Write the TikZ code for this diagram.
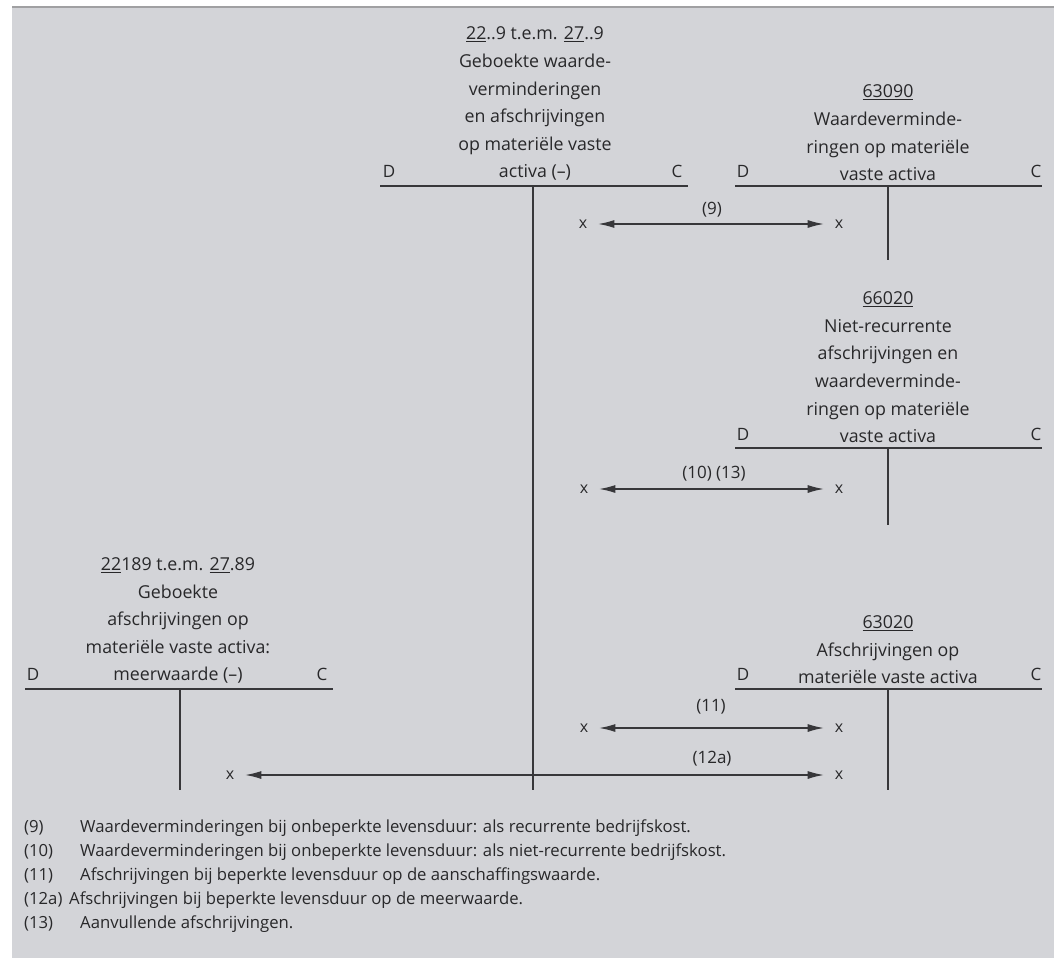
\documentclass[tikz,border=0pt]{standalone}
\usepackage{fontspec}
\setmainfont{Open Sans}
\usetikzlibrary{arrows.meta}
\definecolor{bgc}{RGB}{211,212,216}
\definecolor{topc}{RGB}{160,160,162}
\definecolor{linec}{RGB}{55,55,58}
\definecolor{txtc}{RGB}{40,40,42}
\tikzset{
  tline/.style={draw=linec, line width=1.1pt},
  lbl/.style={font=\fontsize{17}{28}\selectfont, text=txtc, inner sep=0pt},
  ttl/.style={font=\fontsize{17.8}{27.6}\selectfont, text=txtc, inner sep=0pt, align=center, anchor=south},
  xl/.style={font=\fontsize{16}{18}\selectfont, text=txtc, inner ysep=0pt, inner xsep=11pt},
  arr/.style={draw=linec, line width=1.1pt, {Latex[length=16pt,width=8pt]}-{Latex[length=16pt,width=8pt]}},
  leg/.style={font=\fontsize{16.7}{24}\selectfont, text=txtc, inner sep=0pt, anchor=base west},
}
\begin{document}
\begin{tikzpicture}[x=1pt,y=-1pt]
\useasboundingbox (0,0) rectangle (1061,958);
\fill[white] (0,0) rectangle (1061,958);
\fill[bgc] (12,7) rectangle (1054,958);
\draw[topc, line width=1.5pt] (12,7) -- (1054,7);

% T-account 1: 22..9 t.e.m. 27..9
\node[ttl] (t1) at (535,181) {\underline{22}..9 t.e.m. \underline{27}..9\\Geboekte waarde-\\verminderingen\\en afschrijvingen\\op materiële vaste\\activa (–)};
\coordinate (t1l) at (380,186); \coordinate (t1r) at (688,186);
\coordinate (t1t) at (533,186); \coordinate (t1b) at (533,790);
\draw[tline] (t1l) -- (t1r); \draw[tline] (t1t) -- (t1b);
\node[lbl] (d1) at (389,171) {D}; \node[lbl] (c1) at (677,171) {C};

% T-account 2: 63090
\node[ttl] (t2) at (888,181) {\underline{63090}\\Waardeverminde-\\ringen op materiële\\vaste activa};
\coordinate (t2l) at (735,186); \coordinate (t2r) at (1042,186);
\coordinate (t2t) at (888,186); \coordinate (t2b) at (888,260);
\draw[tline] (t2l) -- (t2r); \draw[tline] (t2t) -- (t2b);
\node[lbl] (d2) at (743,171) {D}; \node[lbl] (c2) at (1036,171) {C};

% arrow (9)
\node[xl] (x9l) at (583,224) {x}; \node[xl] (x9r) at (839,224) {x};
\draw[arr] (x9l) -- (x9r);
\node[lbl] (l9) at (712,210) {(9)};

% T-account 3: 66020
\node[ttl] (t3) at (888,443) {\underline{66020}\\Niet-recurrente\\afschrijvingen en\\waardeverminde-\\ringen op materiële\\vaste activa};
\coordinate (t3l) at (735,448); \coordinate (t3r) at (1042,448);
\coordinate (t3t) at (888,448); \coordinate (t3b) at (888,525);
\draw[tline] (t3l) -- (t3r); \draw[tline] (t3t) -- (t3b);
\node[lbl] (d3) at (743,434) {D}; \node[lbl] (c3) at (1036,434) {C};

% arrow (10) (13)
\node[xl] (x10l) at (584,489) {x}; \node[xl] (x10r) at (839,489) {x};
\draw[arr] (x10l) -- (x10r);
\node[lbl] (l10) at (714,474) {(10) (13)};

% T-account 4: 22189 t.e.m. 27.89
\node[ttl] (t4) at (178,684) {\underline{22}189 t.e.m. \underline{27}.89\\Geboekte\\afschrijvingen op\\materiële vaste activa:\\meerwaarde (–)};
\coordinate (t4l) at (25,689); \coordinate (t4r) at (333,689);
\coordinate (t4t) at (180,689); \coordinate (t4b) at (180,790);
\draw[tline] (t4l) -- (t4r); \draw[tline] (t4t) -- (t4b);
\node[lbl] (d4) at (33,674) {D}; \node[lbl] (c4) at (322,674) {C};

% T-account 5: 63020
\node[ttl] (t5) at (888,684) {\underline{63020}\\Afschrijvingen op\\materiële vaste activa};
\coordinate (t5l) at (735,689); \coordinate (t5r) at (1042,689);
\coordinate (t5t) at (888,689); \coordinate (t5b) at (888,790);
\draw[tline] (t5l) -- (t5r); \draw[tline] (t5t) -- (t5b);
\node[lbl] (d5) at (743,674) {D}; \node[lbl] (c5) at (1036,674) {C};

% arrow (11)
\node[xl] (x11l) at (584,728) {x}; \node[xl] (x11r) at (839,728) {x};
\draw[arr] (x11l) -- (x11r);
\node[lbl] (l11) at (711,707) {(11)};

% arrow (12a)
\node[xl] (x12l) at (230,775) {x}; \node[xl] (x12r) at (839,775) {x};
\draw[arr] (x12l) -- (x12r);
\node[lbl] (l12) at (712,759) {(12a)};

% legend
\node[leg] (n9) at (24,832) {(9)};
\node[leg] (e9) at (80,832) {Waardeverminderingen bij onbeperkte levensduur: als recurrente bedrijfskost.};
\node[leg] (n10) at (24,856) {(10)};
\node[leg] (e10) at (80,856) {Waardeverminderingen bij onbeperkte levensduur: als niet-recurrente bedrijfskost.};
\node[leg] (n11) at (24,880) {(11)};
\node[leg] (e11) at (80,880) {Afschrijvingen bij beperkte levensduur op de aanschaffingswaarde.};
\node[leg] (n12) at (24,904) {(12a)};
\node[leg] (e12) at (69,904) {Afschrijvingen bij beperkte levensduur op de meerwaarde.};
\node[leg] (n13) at (24,928) {(13)};
\node[leg] (e13) at (80,928) {Aanvullende afschrijvingen.};
\end{tikzpicture}
\end{document}
